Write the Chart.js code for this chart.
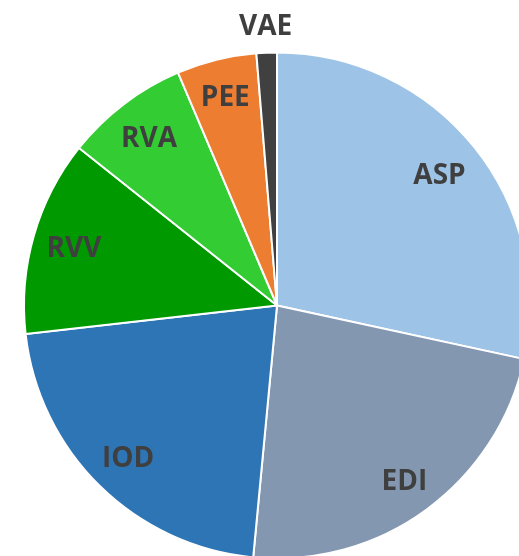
<!DOCTYPE html>
<html>
<head>
<meta charset="utf-8">
<script src="https://cdn.jsdelivr.net/npm/chart.js@4/dist/chart.umd.min.js"></script>
<style>
html, body { margin: 0; padding: 0; background: #fff; overflow: hidden; }
#wrap { position: relative; width: 519px; height: 556px; overflow: hidden; }
#pie { position: absolute; left: 0; top: 0; }
</style>
</head>
<body>
<div id="wrap"><canvas id="pie" width="560" height="566"></canvas></div>
<script>
// categories and shares (%), clockwise from 12 o'clock
var categories = ['ASP', 'EDI', 'IOD', 'RVV', 'RVA', 'PEE', 'VAE'];
var shares = [28.4, 23.1, 21.7, 12.5, 7.9, 5.1, 1.3];
var colours = ['#9dc3e6', '#8497b0', '#2e75b6', '#009a00', '#33cc33', '#ed7d31', '#404040'];

// simple label drawer, labels placed along the slice mid angle
// (text centred on its cap height, like the office chart)
var sliceLabels = {
    id: 'sliceLabels',
    afterDatasetsDraw: function(chart, args, opts) {
        var ctx = chart.ctx;
        var meta = chart.getDatasetMeta(0);
        ctx.save();
        ctx.font = opts.font;
        ctx.fillStyle = opts.color;
        ctx.textAlign = 'center';
        ctx.textBaseline = 'alphabetic';
        meta.data.forEach(function(arc, i) {
            var p = arc.getProps(['x', 'y', 'startAngle', 'endAngle', 'outerRadius'], true);
            var mid = (p.startAngle + p.endAngle) / 2;
            var r = p.outerRadius * opts.dist[i];
            ctx.fillText(chart.data.labels[i], p.x + Math.cos(mid) * r, p.y + Math.sin(mid) * r + opts.capHalf);
        });
        ctx.restore();
    }
};

new Chart(document.getElementById('pie'), {
    type: 'pie',
    data: {
        labels: categories,
        datasets: [{
            data: shares,
            backgroundColor: colours,
            borderColor: '#ffffff',
            borderWidth: 2
        }]
    },
    options: {
        responsive: false,
        animation: false,
        rotation: 0,
        layout: { padding: { left: 23, top: 51, right: 29, bottom: 6 } },
        plugins: {
            legend: { display: false },
            tooltip: { enabled: false },
            sliceLabels: {
                font: 'bold 28px "Open Sans"',
                color: '#3f3f3f',
                capHalf: 10,
                dist: [0.825, 0.853, 0.84, 0.835, 0.836, 0.853, 1.11]
            }
        }
    },
    plugins: [sliceLabels]
});
</script>
</body>
</html>
